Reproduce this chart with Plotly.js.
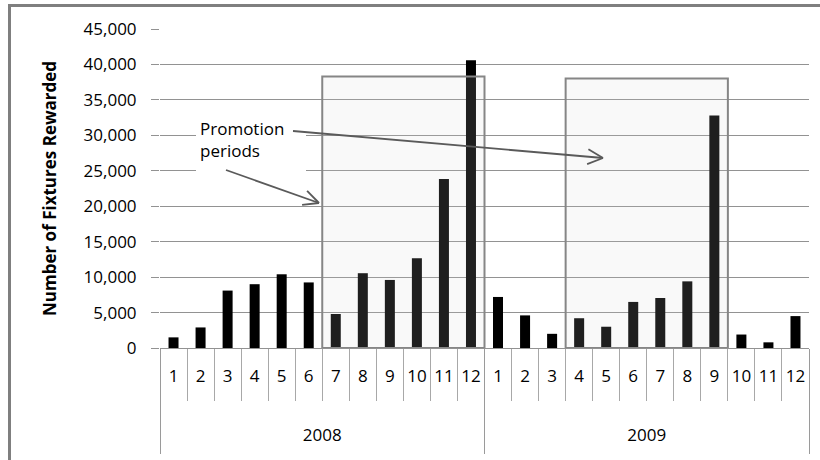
<!DOCTYPE html>
<html>
<head>
<meta charset="utf-8">
<script src="https://cdn.plot.ly/plotly-3.0.1.min.js"></script>
<style>
  html, body { margin: 0; padding: 0; background: #ffffff; width: 820px; height: 460px; overflow: hidden; }
  #frame { position: absolute; left: 8px; top: 4px; width: 900px; height: 600px;
           border-left: 3px solid #7f7f7f; border-top: 3px solid #7f7f7f; z-index: 0; }
  #chart { position: absolute; left: 0; top: 0; width: 820px; height: 460px; z-index: 1; }
</style>
</head>
<body>
<div id="frame"></div>
<div id="chart"></div>
<script>
// ---- data ----
const years = ['2008', '2009'];
const months = ['1','2','3','4','5','6','7','8','9','10','11','12'];
const fixtures2008 = [1500, 2900, 8100, 9000, 10400, 9250, 4800, 10550, 9600, 12650, 23850, 40600];
const fixtures2009 = [7200, 4600, 2000, 4200, 3000, 6500, 7050, 9400, 32800, 1900, 800, 4500];
const promoYear = ['2008', '2009'];
const promoFromMonth = [7, 4];
const promoToMonth = [12, 9];
const yTickVals = [0, 5000, 10000, 15000, 20000, 25000, 30000, 35000, 40000, 45000];
const yTitle = 'Number of Fixtures Rewarded';
const noteText = 'Promotion<br>periods';

// ---- build ----
const values = fixtures2008.concat(fixtures2009);
const monthLabels = months.concat(months);
const idx = values.map((v, i) => i);
const nCat = values.length;
const boundaries = [];
for (let i = 0; i <= nCat; i++) boundaries.push(i - 0.5);
const yearBounds = [-0.5, months.length - 0.5, nCat - 0.5];
const yearCenters = years.map((y, k) => k * months.length + (months.length - 1) / 2);

const FONT = 'Open Sans, Lato, sans-serif';
const GRID = '#929292';

// plot area in pixels (for decorative annotation placement)
const M = {l: 160, r: 11, t: 29, b: 112};
const W = 820, H = 460;
const PW = W - M.l - M.r, PH = H - M.t - M.b;
const fx = px => (px - M.l) / PW;
const fy = py => (H - M.b - py) / PH;

const shapes = [];
// promotion boxes
const boxTops = [38300, 38000];
promoYear.forEach((y, k) => {
  const yi = years.indexOf(y);
  shapes.push({
    type: 'rect', xref: 'x', yref: 'y', layer: 'above',
    x0: yi * 12 + promoFromMonth[k] - 1 - 0.5,
    x1: yi * 12 + promoToMonth[k] - 1 + 0.5,
    y0: 0, y1: boxTops[k],
    fillcolor: 'rgba(214,214,214,0.145)',
    line: {color: '#868686', width: 2}
  });
});
// white text box behind note
shapes.push({type: 'rect', xref: 'paper', yref: 'paper', layer: 'above',
  x0: fx(196), x1: fx(306), y0: fy(180), y1: fy(112),
  fillcolor: '#ffffff', line: {width: 0}});
// arrows with open V heads
function arrow(x0, y0, x1, y1) {
  const col = '#5a5a5a', w = 1.8;
  shapes.push({type: 'line', xref: 'paper', yref: 'paper', layer: 'above',
    x0: fx(x0), y0: fy(y0), x1: fx(x1), y1: fy(y1), line: {color: col, width: w}});
  const ang = Math.atan2(y1 - y0, x1 - x0);
  const L = 17, sp = 26 * Math.PI / 180;
  [ang + Math.PI - sp, ang + Math.PI + sp].forEach(a => {
    shapes.push({type: 'line', xref: 'paper', yref: 'paper', layer: 'above',
      x0: fx(x1), y0: fy(y1), x1: fx(x1 + L * Math.cos(a)), y1: fy(y1 + L * Math.sin(a)),
      line: {color: col, width: w}});
  });
}
arrow(293, 131, 603, 158);
arrow(226, 170, 319, 203);

const trace = {
  type: 'bar', x: idx, y: values, width: 0.37,
  marker: {color: '#000000', line: {width: 0}},
  hoverinfo: 'skip', showlegend: false
};
// invisible copies so the helper axes (separators, year labels) get drawn
const helpers = ['x2', 'x3', 'x4'].map(ax => ({
  type: 'bar', x: idx, y: values, width: 0.37, xaxis: ax, yaxis: 'y',
  marker: {color: 'rgba(0,0,0,0)', line: {width: 0}},
  hoverinfo: 'skip', showlegend: false
}));

const baseX = {range: [-0.5, nCat - 0.5], autorange: false, showgrid: false, zeroline: false, showline: false, fixedrange: true};

const layout = {
  width: W, height: H,
  margin: M,
  paper_bgcolor: 'rgba(0,0,0,0)', plot_bgcolor: 'rgba(0,0,0,0)',
  font: {family: FONT, color: '#000000', size: 16},
  showlegend: false,
  barmode: 'overlay',
  xaxis: Object.assign({}, baseX, {
    tickmode: 'array', tickvals: idx, ticktext: monthLabels, ticks: '',
    tickfont: {family: FONT, size: 17, color: '#000'}, ticklabelstandoff: 16
  }),
  xaxis2: Object.assign({}, baseX, {
    overlaying: 'x', anchor: 'y', side: 'bottom',
    tickmode: 'array', tickvals: boundaries, ticks: 'outside', ticklen: 52,
    tickcolor: '#a8a8a8', tickwidth: 1, showticklabels: false
  }),
  xaxis3: Object.assign({}, baseX, {
    overlaying: 'x', anchor: 'y', side: 'bottom',
    tickmode: 'array', tickvals: yearBounds, ticks: 'outside', ticklen: 105,
    tickcolor: '#9a9a9a', tickwidth: 1, showticklabels: false
  }),
  xaxis4: Object.assign({}, baseX, {
    overlaying: 'x', anchor: 'y', side: 'bottom',
    tickmode: 'array', tickvals: yearCenters, ticktext: years, ticks: '',
    tickfont: {family: FONT, size: 17, color: '#000'}, ticklabelstandoff: 75
  }),
  yaxis: {
    range: [0, 45000], autorange: false, fixedrange: true,
    tickmode: 'array', tickvals: yTickVals,
    tickformat: ',d',
    ticks: 'outside', ticklen: 8, tickcolor: GRID, tickwidth: 1,
    showgrid: true, gridcolor: GRID, gridwidth: 1,
    zeroline: true, zerolinecolor: GRID, zerolinewidth: 1,
    showline: false,
    tickfont: {family: FONT, size: 17, color: '#000'},
    ticklabelstandoff: 11,
    automargin: false,
    title: {text: yTitle, font: {family: FONT, size: 17, color: '#000', weight: 'bold'}, standoff: 22}
  },
  shapes: shapes,
  annotations: [{
    xref: 'paper', yref: 'paper', x: fx(198), y: fy(139),
    xanchor: 'left', yanchor: 'middle', align: 'left', showarrow: false,
    text: noteText, font: {family: FONT, size: 17, color: '#000'}
  }]
};

Plotly.newPlot('chart', [trace].concat(helpers), layout, {staticPlot: true, displayModeBar: false});
</script>
</body>
</html>
